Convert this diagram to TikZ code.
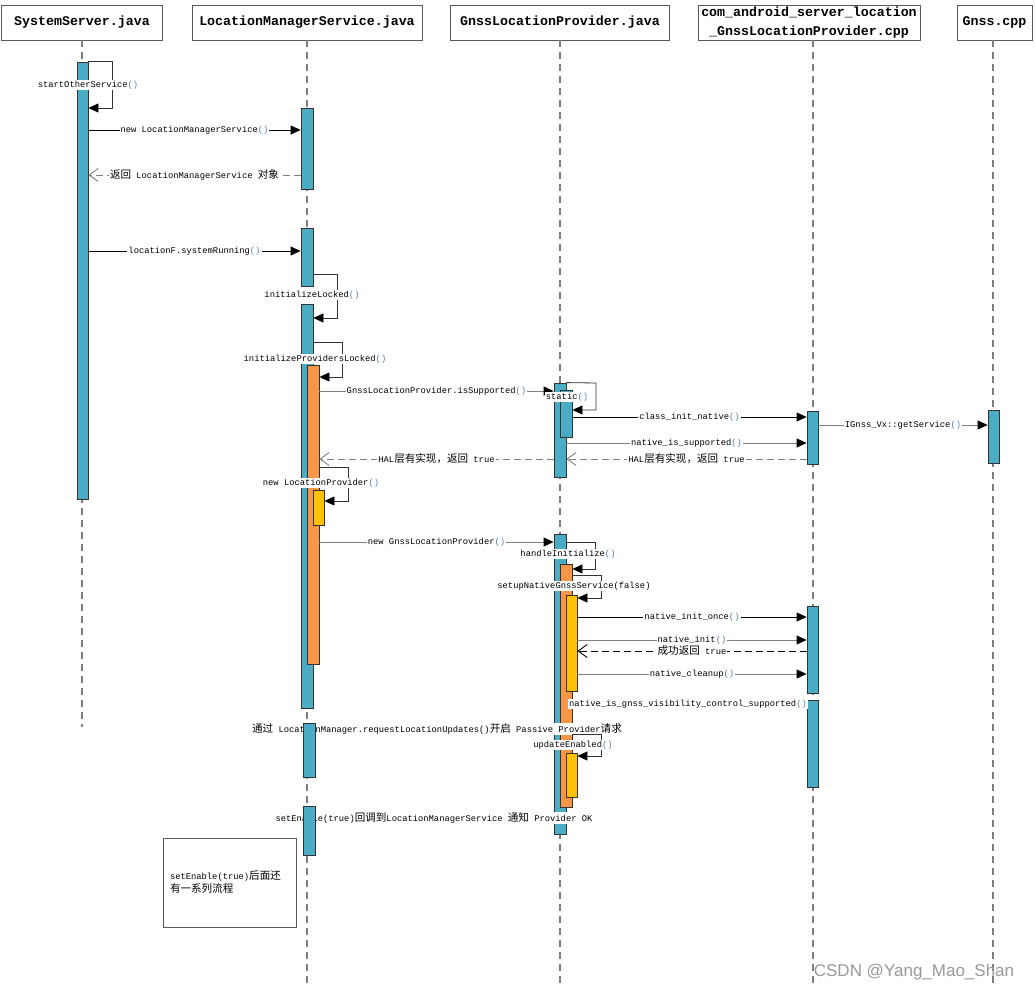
\documentclass[tikz,border=0pt]{standalone}
\usepackage{fontspec}
\setmainfont{Liberation Mono}
\setsansfont{Liberation Sans}
\newfontfamily\cjk{Noto Sans CJK SC}[Scale=1.2]
\usetikzlibrary{positioning,fit,arrows.meta}
\definecolor{barteal}{HTML}{4BACC6}
\definecolor{barorange}{HTML}{F79646}
\definecolor{baryellow}{HTML}{FFC000}
\definecolor{lgray}{HTML}{7F7F7F}
\definecolor{paren}{HTML}{4F81BD}
\newcommand{\pr}{\textcolor{paren}{()}}
\tikzset{%
  head/.style = {rectangle,draw=black!65,line width=0.8pt,
        minimum height=35pt,inner sep=0pt,align=center,
        font=\fontsize{13.3}{19}\selectfont\bfseries},
  life/.style = {draw=lgray,line width=1.2pt,dash pattern=on 7pt off 5pt},
  tealbar/.style = {rectangle,draw=black!80,fill=barteal,line width=0.8pt,inner sep=0pt},
  orangebar/.style = {tealbar,fill=barorange},
  yellowbar/.style = {tealbar,fill=baryellow},
  msg/.style = {-{Triangle[length=10pt,width=9pt,color=black]},line width=0.9pt},
  gmsg/.style = {msg,draw=lgray},
  selfcall/.style = {msg,draw=black!80,line width=0.8pt},
  ret/.style = {-{Straight Barb[length=9pt,width=13pt]},draw=lgray,line width=0.9pt,
        dash pattern=on 7pt off 4pt},
  bret/.style = {ret,draw=black},
  lbl/.style = {fill=white,inner sep=1pt,font=\fontsize{8.8}{10}\selectfont},
  note/.style = {rectangle,draw=black!65,line width=0.8pt,minimum width=133pt,
        minimum height=89pt,text width=119pt,align=left,inner sep=0pt,
        font=\fontsize{8.8}{13}\selectfont}
}
\begin{document}
\begin{tikzpicture}[x=1pt,y=-1pt]
  \useasboundingbox (0,0) rectangle (1035,992);
  % participants
  \node[head,minimum width=161pt] (hss) at (82,22.5) {SystemServer.java};
  \node[head,minimum width=230pt] (hlms) at (307,22.5) {LocationManagerService.java};
  \node[head,minimum width=219pt] (hglp) at (560,22.5) {GnssLocationProvider.java};
  \node[head,minimum width=222pt] (hcom) at (809,22.5)
        {com\_android\_server\_location\\\_GnssLocationProvider.cpp};
  \node[head,minimum width=75pt] (hgn) at (994.5,22.5) {Gnss.cpp};

  \draw[life] (hss.south) -- (hss.south |- 0,727);
  \draw[life] (hlms.south) -- (hlms.south |- 0,985);
  \draw[life] (hglp.south) -- (hglp.south |- 0,985);
  \draw[life] (hcom.south -| 813,0) -- (813,985);
  \draw[life] (hgn.south -| 993,0) -- (993,985);

  % activations
  \node[tealbar,fit={(77,62)(88,499)}] (ss1) {};
  \node[tealbar,fit={(301,108)(313,189)}] (lms1) {};
  \node[tealbar,fit={(301,228)(313,286)}] (lms2) {};
  \node[tealbar,fit={(301,304)(313,708)}] (lms3) {};
  \node[orangebar,fit={(307,365)(319,664)}] (lmso) {};
  \node[yellowbar,fit={(313,490)(324,525)}] (lmsy) {};
  \node[tealbar,fit={(554,383)(566,477)}] (glp1) {};
  \node[tealbar,fit={(560,390)(572,437)}] (glps) {};
  \node[tealbar,fit={(807,411)(818,464)}] (com1) {};
  \node[tealbar,fit={(988,410)(999,463)}] (gn1) {};
  \node[tealbar,fit={(554,534)(566,834)}] (glp2) {};
  \node[orangebar,fit={(560,564)(572,807)}] (glpo) {};
  \node[yellowbar,fit={(566,595)(577,691)}] (glpy1) {};
  \node[yellowbar,fit={(566,753)(577,797)}] (glpy2) {};
  \node[tealbar,fit={(807,606)(818,693)}] (com2) {};
  \node[tealbar,fit={(807,700)(818,787)}] (com3) {};

  % SystemServer -> LocationManagerService
  \draw[selfcall] (ss1.north east) -- ++(24,0) |- (ss1.east |- 0,108);
  \node[lbl] (l-sos) at (88,85) {startOtherService\pr};
  \draw[msg] (ss1.east |- 0,130) -- (lms1.west |- 0,130)
        node[lbl,midway] (l-new) {new LocationManagerService\pr};
  \draw[ret] (lms1.west |- 0,175) -- (ss1.east |- 0,175)
        node[lbl,midway] (l-back) {{\cjk 返回} LocationManagerService {\cjk 对象}};
  \draw[msg] (ss1.east |- 0,251) -- (lms2.west |- 0,251)
        node[lbl,midway] (l-run) {locationF.systemRunning\pr};
  \draw[selfcall] (lms2.east |- 0,274) -- (337,274) |- (lms3.east |- 0,318);
  \node[lbl] (l-il) at (312,295) {initializeLocked\pr};
  \draw[selfcall] (lms3.east |- 0,342) -- (342,342) |- (lmso.east |- 0,377);
  \node[lbl] (l-ipl) at (315,359) {initializeProvidersLocked\pr};

  % isSupported
  \draw[gmsg] (lmso.east |- 0,391) -- (glp1.west |- 0,391)
        node[lbl,midway] (l-iss) {GnssLocationProvider.isSupported\pr};
  \draw[selfcall] (glp1.north east) -- (596,383) |- (glps.east |- 0,410);
  \node[lbl] (l-st) at (567,397) {static\pr};
  \draw[msg] (glps.east |- 0,417) -- (com1.west |- 0,417)
        node[lbl,midway] (l-cin) {class\_init\_native\pr};
  \draw[gmsg] (com1.east |- 0,425) -- (gn1.west |- 0,425)
        node[lbl,midway] (l-gs) {IGnss\_Vx::getService\pr};
  \draw[gmsg] (glp1.east |- 0,443) -- (com1.west |- 0,443)
        node[lbl,midway] (l-nis) {native\_is\_supported\pr};
  \draw[ret] (com1.west |- 0,459) -- (glp1.east |- 0,459)
        node[lbl,midway] (l-hal2) {HAL{\cjk 层有实现，返回} true};
  \draw[ret] (glp1.west |- 0,459) -- (lmso.east |- 0,459)
        node[lbl,midway] (l-hal1) {HAL{\cjk 层有实现，返回} true};

  % providers
  \draw[selfcall] (lmso.east |- 0,467) -- (348,467) |- (lmsy.east |- 0,501);
  \node[lbl] (l-nlp) at (321,483) {new LocationProvider\pr};
  \draw[gmsg] (lmso.east |- 0,542) -- (glp2.west |- 0,542)
        node[lbl,midway] (l-ngp) {new GnssLocationProvider\pr};
  \draw[selfcall] (glp2.east |- 0,542) -- (595,542) |- (glpo.east |- 0,569);
  \node[lbl] (l-hi) at (568,554) {handleInitialize\pr};
  \draw[selfcall] (glpo.east |- 0,575) -- (601,575) |- (glpy1.east |- 0,598);
  \node[lbl] (l-setup) at (574,586) {setupNativeGnssService(false)};
  \draw[msg] (glpy1.east |- 0,617) -- (com2.west |- 0,617)
        node[lbl,midway] (l-nio) {native\_init\_once\pr};
  \draw[gmsg] (glpy1.east |- 0,640) -- (com2.west |- 0,640)
        node[lbl,midway] (l-ni) {native\_init\pr};
  \draw[bret] (com2.west |- 0,651) -- (glpy1.east |- 0,651)
        node[lbl,midway] (l-ok) {{\cjk 成功返回} true};
  \draw[gmsg] (glpy1.east |- 0,674) -- (com2.west |- 0,674)
        node[lbl,midway] (l-nc) {native\_cleanup\pr};
  \node[lbl] (l-vis) at (688,704) {native\_is\_gnss\_visibility\_control\_supported\pr};

  % enable
  \node[lbl] (l-req) at (437,729)
        {{\cjk 通过} LocationManager.requestLocationUpdates(){\cjk 开启} Passive Provider{\cjk 请求}};
  \draw[selfcall] (glpo.east |- 0,734) -- (601,734) |- (glpy2.east |- 0,756);
  \node[lbl] (l-ue) at (573,745) {updateEnabled\pr};
  \node[lbl] (l-se) at (434,818)
        {setEnable(true){\cjk 回调到}LocationManagerService {\cjk 通知} Provider OK};
  \node[tealbar,fit={(303,723)(315,777)}] (lms4) {};
  \node[tealbar,fit={(303,806)(315,855)}] (lms5) {};

  \node[note] (n1) at (229.5,882.5) {setEnable(true){\cjk 后面还}\\{\cjk 有一系列流程}};
  \node[font=\sffamily\fontsize{17}{20}\selectfont,text=black!40] (wm) at (914,972)
        {CSDN @Yang\_Mao\_Shan};
\end{tikzpicture}
\end{document}
